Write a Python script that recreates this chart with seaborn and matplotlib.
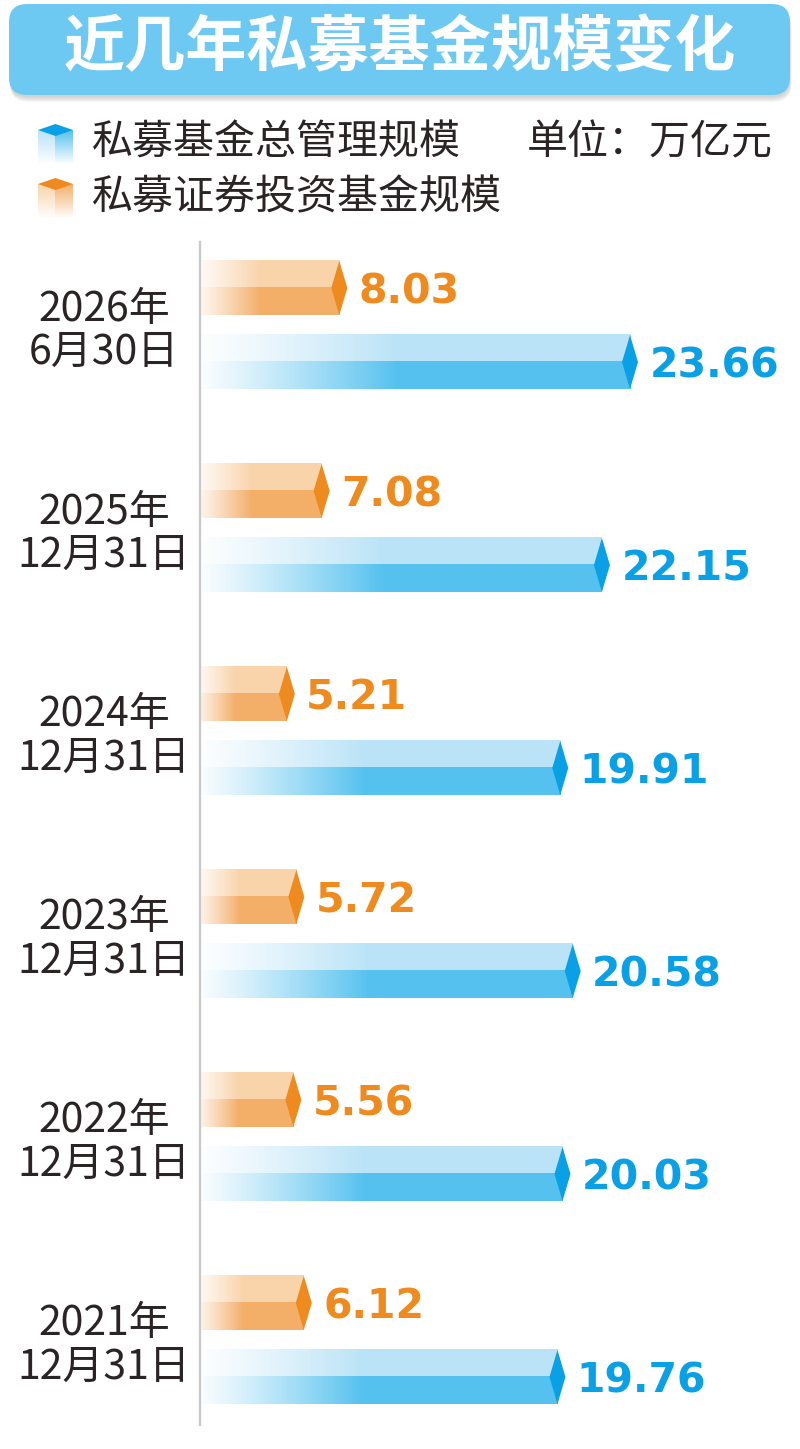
import numpy as np
import pandas as pd
import matplotlib
matplotlib.use("Agg")
import matplotlib.pyplot as plt
import seaborn as sns
from matplotlib.colors import to_rgb
from matplotlib.patches import Polygon, FancyBboxPatch

# data (万亿元)
periods = ["2026年\n6月30日", "2025年\n12月31日", "2024年\n12月31日",
           "2023年\n12月31日", "2022年\n12月31日", "2021年\n12月31日"]
securities = [8.03, 7.08, 5.21, 5.72, 5.56, 6.12]
total = [23.66, 22.15, 19.91, 20.58, 20.03, 19.76]
name_sec = "私募证券投资基金规模"
name_total = "私募基金总管理规模"

df = pd.DataFrame({
    "period": periods * 2,
    "series": [name_sec] * len(periods) + [name_total] * len(periods),
    "value": securities + total,
})

sns.set_style("white")
plt.rcParams["font.family"] = ["Noto Sans CJK SC", "DejaVu Sans"]

# light top / dark bottom / tip colour / label colour
orange = ("#F9D3A9", "#F3AE68", "#EE8A1E", "#EE8A1E")
blue = ("#BAE3F7", "#55C1EF", "#0AA0E6", "#0AA0E6")
text_col = "#2b2424"

fig = plt.figure(figsize=(8, 14.49), dpi=100)

# background layer in pixel coords: title, legend
bg = fig.add_axes([0, 0, 1, 1])
bg.set_xlim(0, 800)
bg.set_ylim(1449, 0)
bg.axis("off")

# soft shadow under the title box
for k in range(6):
    sh = FancyBboxPatch((9 + k * 0.3, 6 + k), 781, 91, boxstyle="round,pad=0,rounding_size=18",
                        facecolor="#8a8a8a", edgecolor="none", alpha=0.07)
    bg.add_patch(sh)
box = FancyBboxPatch((9, 4), 781, 91, boxstyle="round,pad=0,rounding_size=18",
                     facecolor="#6EC9F2", edgecolor="none")
bg.add_patch(box)
bg.text(400, 49, "近几年私募基金规模变化", ha="center", va="center",
        fontsize=44, fontweight="bold", color="white")


def icon(x0, y0, w, h, cols):
    light, dark, top = cols[0], cols[1], cols[2]
    xm = x0 + w / 2
    n = 60
    fade = np.linspace(1, 0.05, n)
    img = np.zeros((n, 2, 4))
    img[:, 0, :3] = to_rgb(light)
    img[:, 1, :3] = to_rgb(dark)
    img[:, :, 3] = fade[:, None]
    bg.imshow(img, extent=(x0, x0 + w, y0 + h, y0 + 6), origin="upper",
              aspect="auto", interpolation="nearest", zorder=2)
    bg.add_patch(Polygon([(x0, y0 + 6), (xm, y0), (x0 + w, y0 + 6), (xm, y0 + 12)],
                         closed=True, facecolor=top, edgecolor="none", zorder=3))


icon(38, 124, 35, 39, blue)
icon(38, 178, 35, 39, orange)
bg.text(92, 143, name_total, va="center", fontsize=29.5, color=text_col)
bg.text(527, 143, "单位：万亿元", va="center", fontsize=29.5, color=text_col)
bg.text(92, 198, name_sec, va="center", fontsize=29.5, color=text_col)

# main chart
ax = fig.add_axes([0.25, 1 - 1425 / 1449, 0.75, (1425 - 242) / 1449])
ax.patch.set_alpha(0)
sns.barplot(data=df, y="period", x="value", hue="series", order=periods,
            hue_order=[name_sec, name_total], palette=[orange[1], blue[1]],
            orient="h", width=0.73, gap=0.27, errorbar=None, legend=False, ax=ax)

tip = 0.43


def fake3d(bar, cols):
    light, dark, tipc = cols[0], cols[1], cols[2]
    x0, y0, w, h = bar.get_x(), bar.get_y(), bar.get_width(), bar.get_height()
    bar.set_visible(False)
    n = 400
    ramp = np.clip(np.linspace(0, 1, n) / 0.47, 0, 1) ** 1.2
    img = np.zeros((20, n, 4))
    img[:10, :, :3] = to_rgb(light)
    img[10:, :, :3] = to_rgb(dark)
    img[:, :, 3] = ramp[None, :]
    ax.imshow(img, extent=(x0, x0 + w, y0 + h, y0), origin="upper",
              aspect="auto", interpolation="nearest", zorder=2)
    xe, yc = x0 + w, y0 + h / 2
    ax.add_patch(Polygon([(xe, y0), (xe + tip, yc), (xe, y0 + h), (xe - tip, yc)],
                         closed=True, facecolor=tipc, edgecolor="none", zorder=3))


for cont, cols in zip(ax.containers, [orange, blue]):
    for bar in cont:
        fake3d(bar, cols)
    labs = ax.bar_label(cont, fmt="%.2f", padding=14, fontsize=29.5, fontweight="bold",
                        color=cols[3], fontfamily="DejaVu Sans")
    for t in labs:
        t.set_va("center_baseline")

ax.set_xlim(0.54, 32.8)
ax.set_ylim(5.419, -0.409)
ax.set_xticks([])
ax.set_xlabel("")
ax.set_ylabel("")
for s in ["top", "right", "bottom"]:
    ax.spines[s].set_visible(False)
ax.spines["left"].set_color("#c8c8c8")
ax.spines["left"].set_linewidth(1.6)
ax.tick_params(axis="y", length=0, pad=69)
for lab in ax.get_yticklabels():
    lab.set_ha("center")
    lab.set_fontsize(29.5)
    lab.set_color(text_col)
    lab.set_linespacing(1.07)

fig.savefig("out.png", dpi=100)
